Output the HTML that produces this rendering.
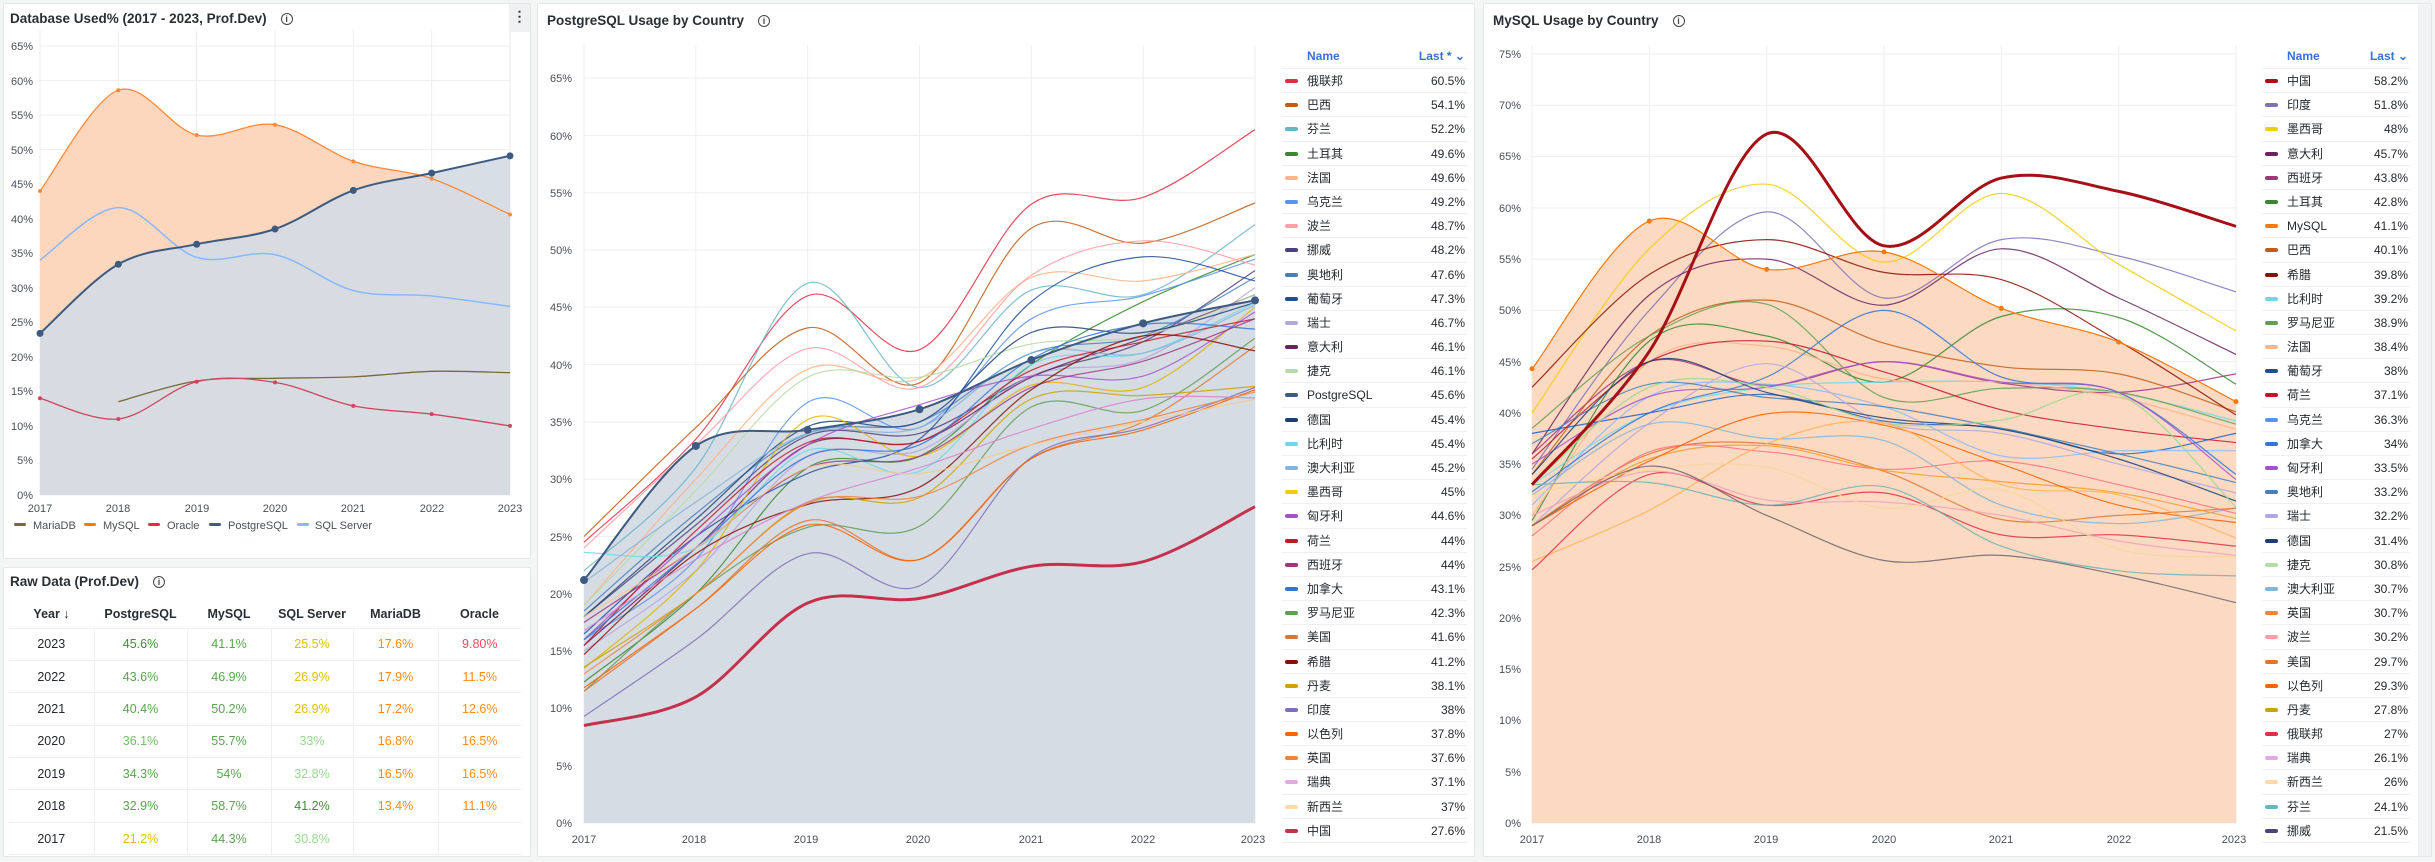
<!DOCTYPE html>
<html><head><meta charset="utf-8">
<style>
*{box-sizing:border-box;margin:0;padding:0}
body{width:2435px;height:862px;background:#f4f5f5;font-family:"Liberation Sans","Noto Sans CJK SC",sans-serif;color:#24292e;position:relative;overflow:hidden}
.p{position:absolute;background:#fff;border:1px solid #e6e7e8;border-radius:2px}
.t{position:absolute;font-size:13.5px;font-weight:bold;color:#2a2f35;white-space:nowrap}
.info{display:inline-block;width:12px;height:12px;border:1.3px solid #444;border-radius:50%;font-size:9px;line-height:10px;text-align:center;font-weight:bold;margin-left:14px;vertical-align:1px;color:#444}
svg{position:absolute;left:0;top:0}
svg text{font-family:"Liberation Sans",sans-serif;font-size:11px;fill:#4a4f57}
.lg{position:absolute;font-size:12px}
.lg .h{height:25px;line-height:25px;color:#3871dc;font-weight:bold;position:relative;border-bottom:1px solid #eee}
.lg .r{height:24.2px;line-height:24px;position:relative;border-bottom:1px solid #efefef;color:#24292e}
.lg i{position:absolute;top:10px;width:13px;height:4px;border-radius:2px}
.lg span{position:absolute}
.lg b{position:absolute;right:2px;font-weight:normal}
table{position:absolute;left:9px;top:600px;border-collapse:collapse;font-size:12.5px}
td,th{text-align:center;height:32.4px;border-bottom:1px solid #eee}
th{height:28px;font-weight:bold;color:#2a2f35}
td{border-left:1px solid #eee}
td:first-child{border-left:none;color:#24292e}
.g1{color:#3f8f34}.g2{color:#56a64b}.g3{color:#73bf69}.g4{color:#96d98d}.y{color:#e0c000}.o{color:#ff8c1a}.rd{color:#f2495c}
</style></head><body>
<div class="p" style="left:3px;top:3px;width:528px;height:556px"></div>
<div class="p" style="left:3px;top:567px;width:528px;height:290px"></div>
<div class="p" style="left:537px;top:3px;width:938px;height:854px"></div>
<div class="p" style="left:1483px;top:3px;width:949px;height:854px"></div>
<div style="position:absolute;left:509px;top:4px;width:21px;height:28px;background:#eef0f1;text-align:center;font-size:14px;line-height:24px;color:#333;font-weight:bold">⋮</div>
<div class="t" style="left:10px;top:11px">Database Used% (2017 - 2023, Prof.Dev)<span class="info">i</span></div>
<div class="t" style="left:10px;top:574px">Raw Data (Prof.Dev)<span class="info">i</span></div>
<div class="t" style="left:547px;top:13px">PostgreSQL Usage by Country<span class="info">i</span></div>
<div class="t" style="left:1493px;top:13px">MySQL Usage by Country<span class="info">i</span></div>
<div style="position:absolute;left:2418px;top:4px;width:13px;height:852px;background:#f1f2f3"></div>

<svg width="2435" height="862" id="s">
<g id="grid" stroke="#eeeeee" stroke-width="1"></g>
<g id="lines"></g>
<g text-anchor="end">
<text x="33" y="499">0%</text><text x="33" y="464">5%</text><text x="33" y="430">10%</text><text x="33" y="395">15%</text><text x="33" y="361">20%</text><text x="33" y="326">25%</text><text x="33" y="292">30%</text><text x="33" y="257">35%</text><text x="33" y="223">40%</text><text x="33" y="188">45%</text><text x="33" y="154">50%</text><text x="33" y="119">55%</text><text x="33" y="85">60%</text><text x="33" y="50">65%</text>
<text x="572" y="827">0%</text><text x="572" y="770">5%</text><text x="572" y="712">10%</text><text x="572" y="655">15%</text><text x="572" y="598">20%</text><text x="572" y="541">25%</text><text x="572" y="483">30%</text><text x="572" y="426">35%</text><text x="572" y="369">40%</text><text x="572" y="311">45%</text><text x="572" y="254">50%</text><text x="572" y="197">55%</text><text x="572" y="140">60%</text><text x="572" y="82">65%</text>
<text x="1521" y="827">0%</text><text x="1521" y="776">5%</text><text x="1521" y="724">10%</text><text x="1521" y="673">15%</text><text x="1521" y="622">20%</text><text x="1521" y="571">25%</text><text x="1521" y="519">30%</text><text x="1521" y="468">35%</text><text x="1521" y="417">40%</text><text x="1521" y="366">45%</text><text x="1521" y="314">50%</text><text x="1521" y="263">55%</text><text x="1521" y="212">60%</text><text x="1521" y="160">65%</text><text x="1521" y="109">70%</text><text x="1521" y="58">75%</text>
</g>
<g text-anchor="middle">
<text x="40" y="512">2017</text><text x="118" y="512">2018</text><text x="197" y="512">2019</text><text x="275" y="512">2020</text><text x="353" y="512">2021</text><text x="432" y="512">2022</text><text x="510" y="512">2023</text>
<text x="584" y="843">2017</text><text x="694" y="843">2018</text><text x="806" y="843">2019</text><text x="918" y="843">2020</text><text x="1031" y="843">2021</text><text x="1143" y="843">2022</text><text x="1253" y="843">2023</text>
<text x="1532" y="843">2017</text><text x="1649" y="843">2018</text><text x="1766" y="843">2019</text><text x="1884" y="843">2020</text><text x="2001" y="843">2021</text><text x="2119" y="843">2022</text><text x="2234" y="843">2023</text>
</g>
<g>
<rect x="14" y="523" width="12" height="3" rx="1.5" fill="#7a6a3a"/><text x="33" y="529">MariaDB</text>
<rect x="84" y="523" width="12" height="3" rx="1.5" fill="#ff780a"/><text x="103" y="529">MySQL</text>
<rect x="148" y="523" width="12" height="3" rx="1.5" fill="#e02f44"/><text x="167" y="529">Oracle</text>
<rect x="209" y="523" width="12" height="3" rx="1.5" fill="#3d5a80"/><text x="228" y="529">PostgreSQL</text>
<rect x="297" y="523" width="12" height="3" rx="1.5" fill="#8ab8ff"/><text x="315" y="529">SQL Server</text>
</g>
</svg>

<div class="lg" style="left:1282px;top:44px;width:185px">
<div class="h"><span style="left:25px">Name</span><b style="font-weight:bold">Last * ⌄</b></div>
<div class="r"><i style="background:#e02f44;left:3px"></i><span style="left:25px">俄联邦</span><b>60.5%</b></div>
<div class="r"><i style="background:#c15c17;left:3px"></i><span style="left:25px">巴西</span><b>54.1%</b></div>
<div class="r"><i style="background:#6ab4c8;left:3px"></i><span style="left:25px">芬兰</span><b>52.2%</b></div>
<div class="r"><i style="background:#37872d;left:3px"></i><span style="left:25px">土耳其</span><b>49.6%</b></div>
<div class="r"><i style="background:#ffb387;left:3px"></i><span style="left:25px">法国</span><b>49.6%</b></div>
<div class="r"><i style="background:#5794f2;left:3px"></i><span style="left:25px">乌克兰</span><b>49.2%</b></div>
<div class="r"><i style="background:#ff9ea3;left:3px"></i><span style="left:25px">波兰</span><b>48.7%</b></div>
<div class="r"><i style="background:#4d4179;left:3px"></i><span style="left:25px">挪威</span><b>48.2%</b></div>
<div class="r"><i style="background:#447ebc;left:3px"></i><span style="left:25px">奥地利</span><b>47.6%</b></div>
<div class="r"><i style="background:#1f4e99;left:3px"></i><span style="left:25px">葡萄牙</span><b>47.3%</b></div>
<div class="r"><i style="background:#b4a6e0;left:3px"></i><span style="left:25px">瑞士</span><b>46.7%</b></div>
<div class="r"><i style="background:#6d1f62;left:3px"></i><span style="left:25px">意大利</span><b>46.1%</b></div>
<div class="r"><i style="background:#b5dba6;left:3px"></i><span style="left:25px">捷克</span><b>46.1%</b></div>
<div class="r"><i style="background:#3d5a80;left:3px"></i><span style="left:25px">PostgreSQL</span><b>45.6%</b></div>
<div class="r"><i style="background:#1b3f73;left:3px"></i><span style="left:25px">德国</span><b>45.4%</b></div>
<div class="r"><i style="background:#6ed8e8;left:3px"></i><span style="left:25px">比利时</span><b>45.4%</b></div>
<div class="r"><i style="background:#82b5d8;left:3px"></i><span style="left:25px">澳大利亚</span><b>45.2%</b></div>
<div class="r"><i style="background:#f2cc0c;left:3px"></i><span style="left:25px">墨西哥</span><b>45%</b></div>
<div class="r"><i style="background:#a352cc;left:3px"></i><span style="left:25px">匈牙利</span><b>44.6%</b></div>
<div class="r"><i style="background:#c4162a;left:3px"></i><span style="left:25px">荷兰</span><b>44%</b></div>
<div class="r"><i style="background:#a0357b;left:3px"></i><span style="left:25px">西班牙</span><b>44%</b></div>
<div class="r"><i style="background:#3274d9;left:3px"></i><span style="left:25px">加拿大</span><b>43.1%</b></div>
<div class="r"><i style="background:#629e51;left:3px"></i><span style="left:25px">罗马尼亚</span><b>42.3%</b></div>
<div class="r"><i style="background:#e0752d;left:3px"></i><span style="left:25px">美国</span><b>41.6%</b></div>
<div class="r"><i style="background:#890f02;left:3px"></i><span style="left:25px">希腊</span><b>41.2%</b></div>
<div class="r"><i style="background:#cca300;left:3px"></i><span style="left:25px">丹麦</span><b>38.1%</b></div>
<div class="r"><i style="background:#806eb7;left:3px"></i><span style="left:25px">印度</span><b>38%</b></div>
<div class="r"><i style="background:#fa6400;left:3px"></i><span style="left:25px">以色列</span><b>37.8%</b></div>
<div class="r"><i style="background:#ef843c;left:3px"></i><span style="left:25px">英国</span><b>37.6%</b></div>
<div class="r"><i style="background:#e5a8e2;left:3px"></i><span style="left:25px">瑞典</span><b>37.1%</b></div>
<div class="r"><i style="background:#fcd9a8;left:3px"></i><span style="left:25px">新西兰</span><b>37%</b></div>
<div class="r"><i style="background:#c4314b;left:3px"></i><span style="left:25px">中国</span><b>27.6%</b></div>
</div>

<div class="lg" style="left:2262px;top:44px;width:148px">
<div class="h"><span style="left:25px">Name</span><b style="font-weight:bold">Last ⌄</b></div>
<div class="r"><i style="background:#a50f15;left:3px"></i><span style="left:25px">中国</span><b>58.2%</b></div>
<div class="r"><i style="background:#806eb7;left:3px"></i><span style="left:25px">印度</span><b>51.8%</b></div>
<div class="r"><i style="background:#f2cc0c;left:3px"></i><span style="left:25px">墨西哥</span><b>48%</b></div>
<div class="r"><i style="background:#6d1f62;left:3px"></i><span style="left:25px">意大利</span><b>45.7%</b></div>
<div class="r"><i style="background:#a0357b;left:3px"></i><span style="left:25px">西班牙</span><b>43.8%</b></div>
<div class="r"><i style="background:#37872d;left:3px"></i><span style="left:25px">土耳其</span><b>42.8%</b></div>
<div class="r"><i style="background:#ff780a;left:3px"></i><span style="left:25px">MySQL</span><b>41.1%</b></div>
<div class="r"><i style="background:#c15c17;left:3px"></i><span style="left:25px">巴西</span><b>40.1%</b></div>
<div class="r"><i style="background:#890f02;left:3px"></i><span style="left:25px">希腊</span><b>39.8%</b></div>
<div class="r"><i style="background:#6ed8e8;left:3px"></i><span style="left:25px">比利时</span><b>39.2%</b></div>
<div class="r"><i style="background:#629e51;left:3px"></i><span style="left:25px">罗马尼亚</span><b>38.9%</b></div>
<div class="r"><i style="background:#ffb387;left:3px"></i><span style="left:25px">法国</span><b>38.4%</b></div>
<div class="r"><i style="background:#1f4e99;left:3px"></i><span style="left:25px">葡萄牙</span><b>38%</b></div>
<div class="r"><i style="background:#c4162a;left:3px"></i><span style="left:25px">荷兰</span><b>37.1%</b></div>
<div class="r"><i style="background:#5794f2;left:3px"></i><span style="left:25px">乌克兰</span><b>36.3%</b></div>
<div class="r"><i style="background:#3274d9;left:3px"></i><span style="left:25px">加拿大</span><b>34%</b></div>
<div class="r"><i style="background:#a352cc;left:3px"></i><span style="left:25px">匈牙利</span><b>33.5%</b></div>
<div class="r"><i style="background:#447ebc;left:3px"></i><span style="left:25px">奥地利</span><b>33.2%</b></div>
<div class="r"><i style="background:#b4a6e0;left:3px"></i><span style="left:25px">瑞士</span><b>32.2%</b></div>
<div class="r"><i style="background:#1b3f73;left:3px"></i><span style="left:25px">德国</span><b>31.4%</b></div>
<div class="r"><i style="background:#b5dba6;left:3px"></i><span style="left:25px">捷克</span><b>30.8%</b></div>
<div class="r"><i style="background:#82b5d8;left:3px"></i><span style="left:25px">澳大利亚</span><b>30.7%</b></div>
<div class="r"><i style="background:#ef843c;left:3px"></i><span style="left:25px">英国</span><b>30.7%</b></div>
<div class="r"><i style="background:#ff9ea3;left:3px"></i><span style="left:25px">波兰</span><b>30.2%</b></div>
<div class="r"><i style="background:#e0752d;left:3px"></i><span style="left:25px">美国</span><b>29.7%</b></div>
<div class="r"><i style="background:#fa6400;left:3px"></i><span style="left:25px">以色列</span><b>29.3%</b></div>
<div class="r"><i style="background:#cca300;left:3px"></i><span style="left:25px">丹麦</span><b>27.8%</b></div>
<div class="r"><i style="background:#e02f44;left:3px"></i><span style="left:25px">俄联邦</span><b>27%</b></div>
<div class="r"><i style="background:#e5a8e2;left:3px"></i><span style="left:25px">瑞典</span><b>26.1%</b></div>
<div class="r"><i style="background:#fcd9a8;left:3px"></i><span style="left:25px">新西兰</span><b>26%</b></div>
<div class="r"><i style="background:#6ab4c8;left:3px"></i><span style="left:25px">芬兰</span><b>24.1%</b></div>
<div class="r"><i style="background:#4d4179;left:3px"></i><span style="left:25px">挪威</span><b>21.5%</b></div>
</div>

<table>
<colgroup><col style="width:85px"><col style="width:93px"><col style="width:84px"><col style="width:82px"><col style="width:85px"><col style="width:83px"></colgroup>
<tr><th>Year ↓</th><th>PostgreSQL</th><th>MySQL</th><th>SQL Server</th><th>MariaDB</th><th>Oracle</th></tr>
<tr><td>2023</td><td class="g1">45.6%</td><td class="g2">41.1%</td><td class="y">25.5%</td><td class="o">17.6%</td><td class="rd">9.80%</td></tr>
<tr><td>2022</td><td class="g2">43.6%</td><td class="g2">46.9%</td><td class="y">26.9%</td><td class="o">17.9%</td><td class="o">11.5%</td></tr>
<tr><td>2021</td><td class="g2">40.4%</td><td class="g2">50.2%</td><td class="y">26.9%</td><td class="o">17.2%</td><td class="o">12.6%</td></tr>
<tr><td>2020</td><td class="g3">36.1%</td><td class="g2">55.7%</td><td class="g4">33%</td><td class="o">16.8%</td><td class="o">16.5%</td></tr>
<tr><td>2019</td><td class="g2">34.3%</td><td class="g2">54%</td><td class="g4">32.8%</td><td class="o">16.5%</td><td class="o">16.5%</td></tr>
<tr><td>2018</td><td class="g2">32.9%</td><td class="g2">58.7%</td><td class="g1">41.2%</td><td class="o">13.4%</td><td class="o">11.1%</td></tr>
<tr><td>2017</td><td class="y">21.2%</td><td class="g2">44.3%</td><td class="g4">30.8%</td><td></td><td></td></tr>
</table>

<script>
function sp(xs,ys){var p=[];for(var i=0;i<xs.length;i++)if(ys[i]!=null)p.push([xs[i],ys[i]]);
var d='M'+p[0][0].toFixed(1)+','+p[0][1].toFixed(1);
for(var i=0;i<p.length-1;i++){var a=p[i-1]||p[i],b=p[i],c=p[i+1],e=p[i+2]||c;
d+='C'+(b[0]+(c[0]-a[0])/6).toFixed(1)+','+(b[1]+(c[1]-a[1])/6).toFixed(1)+' '+(c[0]-(e[0]-b[0])/6).toFixed(1)+','+(c[1]-(e[1]-b[1])/6).toFixed(1)+' '+c[0].toFixed(1)+','+c[1].toFixed(1);}
return {d:d,f:p[0],l:p[p.length-1]};}
var out='',grid='';
function chart(x0,x1,y0,ppc,maxv,step,series,fills,top){
 var xs=[];for(var i=0;i<7;i++)xs.push(x0+(x1-x0)*i/6);
 for(var v=0;v<=maxv;v+=step){var y=y0-v*ppc;grid+='<line x1="'+x0+'" x2="'+x1+'" y1="'+y+'" y2="'+y+'"/>';}
 xs.forEach(function(x){grid+='<line x1="'+x+'" x2="'+x+'" y1="'+top+'" y2="'+y0+'"/>';});
 fills.forEach(function(f){var s=sp(xs,f[0].map(function(v){return v==null?null:y0-v*ppc}));
  out+='<path d="'+s.d+'L'+s.l[0]+','+y0+'L'+s.f[0]+','+y0+'Z" fill="'+f[1]+'" fill-opacity="'+f[2]+'"/>';});
 series.forEach(function(s){var ys=s[1].map(function(v){return v==null?null:y0-v*ppc});var r=sp(xs,ys);
  out+='<path d="'+r.d+'" fill="none" stroke="'+s[0]+'" stroke-width="'+(s[2]||1.2)+'" stroke-opacity="'+(s[2]?1:0.85)+'"/>';
  if(s[3])ys.forEach(function(y,i){if(y!=null)out+='<circle cx="'+xs[i]+'" cy="'+y+'" r="'+s[3]+'" fill="'+s[0]+'"/>';});});
}
// panel 1
var my1=[44,58.6,52.1,53.6,48.3,45.8,40.6],pg1=[23.4,33.4,36.3,38.5,44.1,46.6,49.1];
chart(40,510,495,6.908,65,5,[
 ['#7a6a3a',[null,13.5,16.5,16.9,17.1,17.9,17.7],1.3],
 ['#8ab8ff',[34,41.6,34.4,34.8,29.6,28.8,27.3],1.5],
 ['#d0445c',[14,11,16.4,16.3,12.9,11.7,10],1.3,2],
 ['#ff8a3a',my1,1.3,2],
 ['#3d5a80',pg1,2,3.5]
],[[my1,'#fdd7bd',1],[pg1,'#d6dce4',0.95]],30);
// PostgreSQL panel
var P=[
['#e02f44',[24.5,33.5,46,41.3,54,54.6,60.5]],
['#c15c17',[25,34.5,43.2,38.4,51.9,50.6,54.1]],
['#6ab4c8',[22,31,47.1,38,46.5,46.1,52.2]],
['#37872d',[12.3,20,31,32,40,45.5,49.6]],
['#ffb387',[19,30,39.6,38.8,47.6,47.3,49.6]],
['#5794f2',[16,23,36.7,34.5,44,46,49.2]],
['#ff9ea3',[24,33,41.4,38,47.8,50.8,48.7]],
['#4d4179',[18,26,33.8,34,39,42,48.2]],
['#447ebc',[18.5,27,34,35,41,42.5,47.6]],
['#1f4e99',[16.5,25,30.5,33.5,45.5,49.4,47.3]],
['#b4a6e0',[15,22,32,32.5,39,40.5,46.7]],
['#6d1f62',[15.5,24,33,33.3,38.9,42.3,46.1]],
['#b5dba6',[19,29,38.9,38.9,41.8,42.5,46.1]],
['#1b3f73',[18,26.5,34.6,35,42.8,42.8,45.4]],
['#6ed8e8',[23.6,24,32.5,30.7,40,41,45.4]],
['#82b5d8',[21,28,34,34.5,41,41,45.2]],
['#e0b400',[13.5,22,35.2,32,38.2,38,45]],
['#a352cc',[16,25,33,36.5,39,39,44.6]],
['#c4162a',[15.5,25.5,33.2,33.3,39.5,42,44]],
['#a0357b',[17.5,24,31,32,38,40.3,44]],
['#3274d9',[16,24,32,33,40.5,43.5,43.1]],
['#629e51',[11.5,20,25.8,25.9,36.3,36,42.3]],
['#e0752d',[11.5,18.7,26.4,23,31.8,35,41.6]],
['#890f02',[14.7,23.5,27.8,29.3,37.8,42.5,41.2]],
['#cca300',[13.6,20,28,28.4,37,37.3,38.1]],
['#806eb7',[9.3,16,23.5,20.7,31.9,34.5,38]],
['#fa6400',[11.8,18.7,26,23,31.8,34.3,37.8]],
['#ef843c',[13,20,27.9,28.5,33,35.2,37.6]],
['#d683ce',[16.8,23,28,31,34.4,37,37.1]],
['#f5c98a',[18,24,31,30.5,33,35,37]],
['#c4314b',[8.5,11,19.2,19.6,22.4,22.8,27.6],3],
['#3d5a80',[21.2,32.9,34.3,36.1,40.4,43.6,45.6],2,4]];
chart(584,1255,823,11.46,65,5,P,[[[21.2,32.9,34.3,36.1,40.4,43.6,45.6],'#d6dce4',1]],45);
// MySQL panel
var M=[
['#806eb7',[34.5,50,59.6,51.2,56.9,55.3,51.8]],
['#f2cc0c',[40,56,62.3,54.7,61.4,54.5,48]],
['#6d1f62',[36,51.5,55,50.5,56,51.2,45.7]],
['#a0357b',[36,45,42.7,45,42.9,42,43.8]],
['#37872d',[29.5,47,47.5,43,49.4,49.3,42.8]],
['#c15c17',[34,47.5,51,46.8,44.5,43.8,40.1]],
['#890f02',[42.5,53.5,56.9,53.7,53,47,39.8]],
['#6ed8e8',[33,40,42.5,43,43,42,39.2]],
['#629e51',[38.5,47.5,50.6,41.5,42.4,42,38.9]],
['#ffb387',[30,45,46.5,43.3,43,41.5,38.4]],
['#1f60c4',[38,40,41.8,39.2,38.5,36,38]],
['#c4162a',[35.5,45,47,44,40.3,38.4,37.1]],
['#8ab8ff',[31,41.6,42.8,40.6,35.8,36.3,36.3]],
['#3274d9',[32.3,40,43.5,50,43.5,42,34]],
['#a352cc',[35,41.6,42.5,45,43,42,33.5]],
['#447ebc',[37,42.8,41.5,40.6,38.5,36,33.2]],
['#b4a6e0',[29,39,44.8,39,38,35,32.2]],
['#1b3f73',[34,45,42,39.5,38.4,35.5,31.4]],
['#96d98d',[33,42.5,42.5,39,39.3,41.8,30.8]],
['#82b5d8',[32,38.9,37.5,37.3,31,29.2,30.7]],
['#e0752d',[29,36,37,34.3,29.6,30,30.7]],
['#ff7383',[28,36.2,36.2,34.5,35.3,33,30.2]],
['#f79c2d',[29,35.5,36.8,34.4,33.3,32.2,29.7]],
['#fa6400',[29,35.3,39.9,38.8,35,31,29.3]],
['#ffb357',[25.5,30.5,37,39,33,32,27.8]],
['#e02f44',[24.7,34,31,32.2,28.1,28.1,27]],
['#f0a0c0',[30,34.3,31.5,31.3,30,27.5,26.1]],
['#f5d89a',[32,34.5,34.7,30.7,32.5,26.7,26]],
['#70b0b8',[33,33.2,31,32.8,27,24.6,24.1]],
['#6a6470',[29,34.8,30,25.6,26.1,24.2,21.5]],
['#ff780a',[44.3,58.7,54,55.7,50.2,46.9,41.1],1.2,2.5],
['#a50f15',[33,46,67.2,56.3,62.9,61.6,58.2],3]];
chart(1532,2236,823,10.253,75,5,M,[[[44.3,58.7,54,55.7,50.2,46.9,41.1],'#fcd9c1',1]],45);
document.getElementById('grid').innerHTML=grid;
document.getElementById('lines').innerHTML=out;
</script>
</body></html>
